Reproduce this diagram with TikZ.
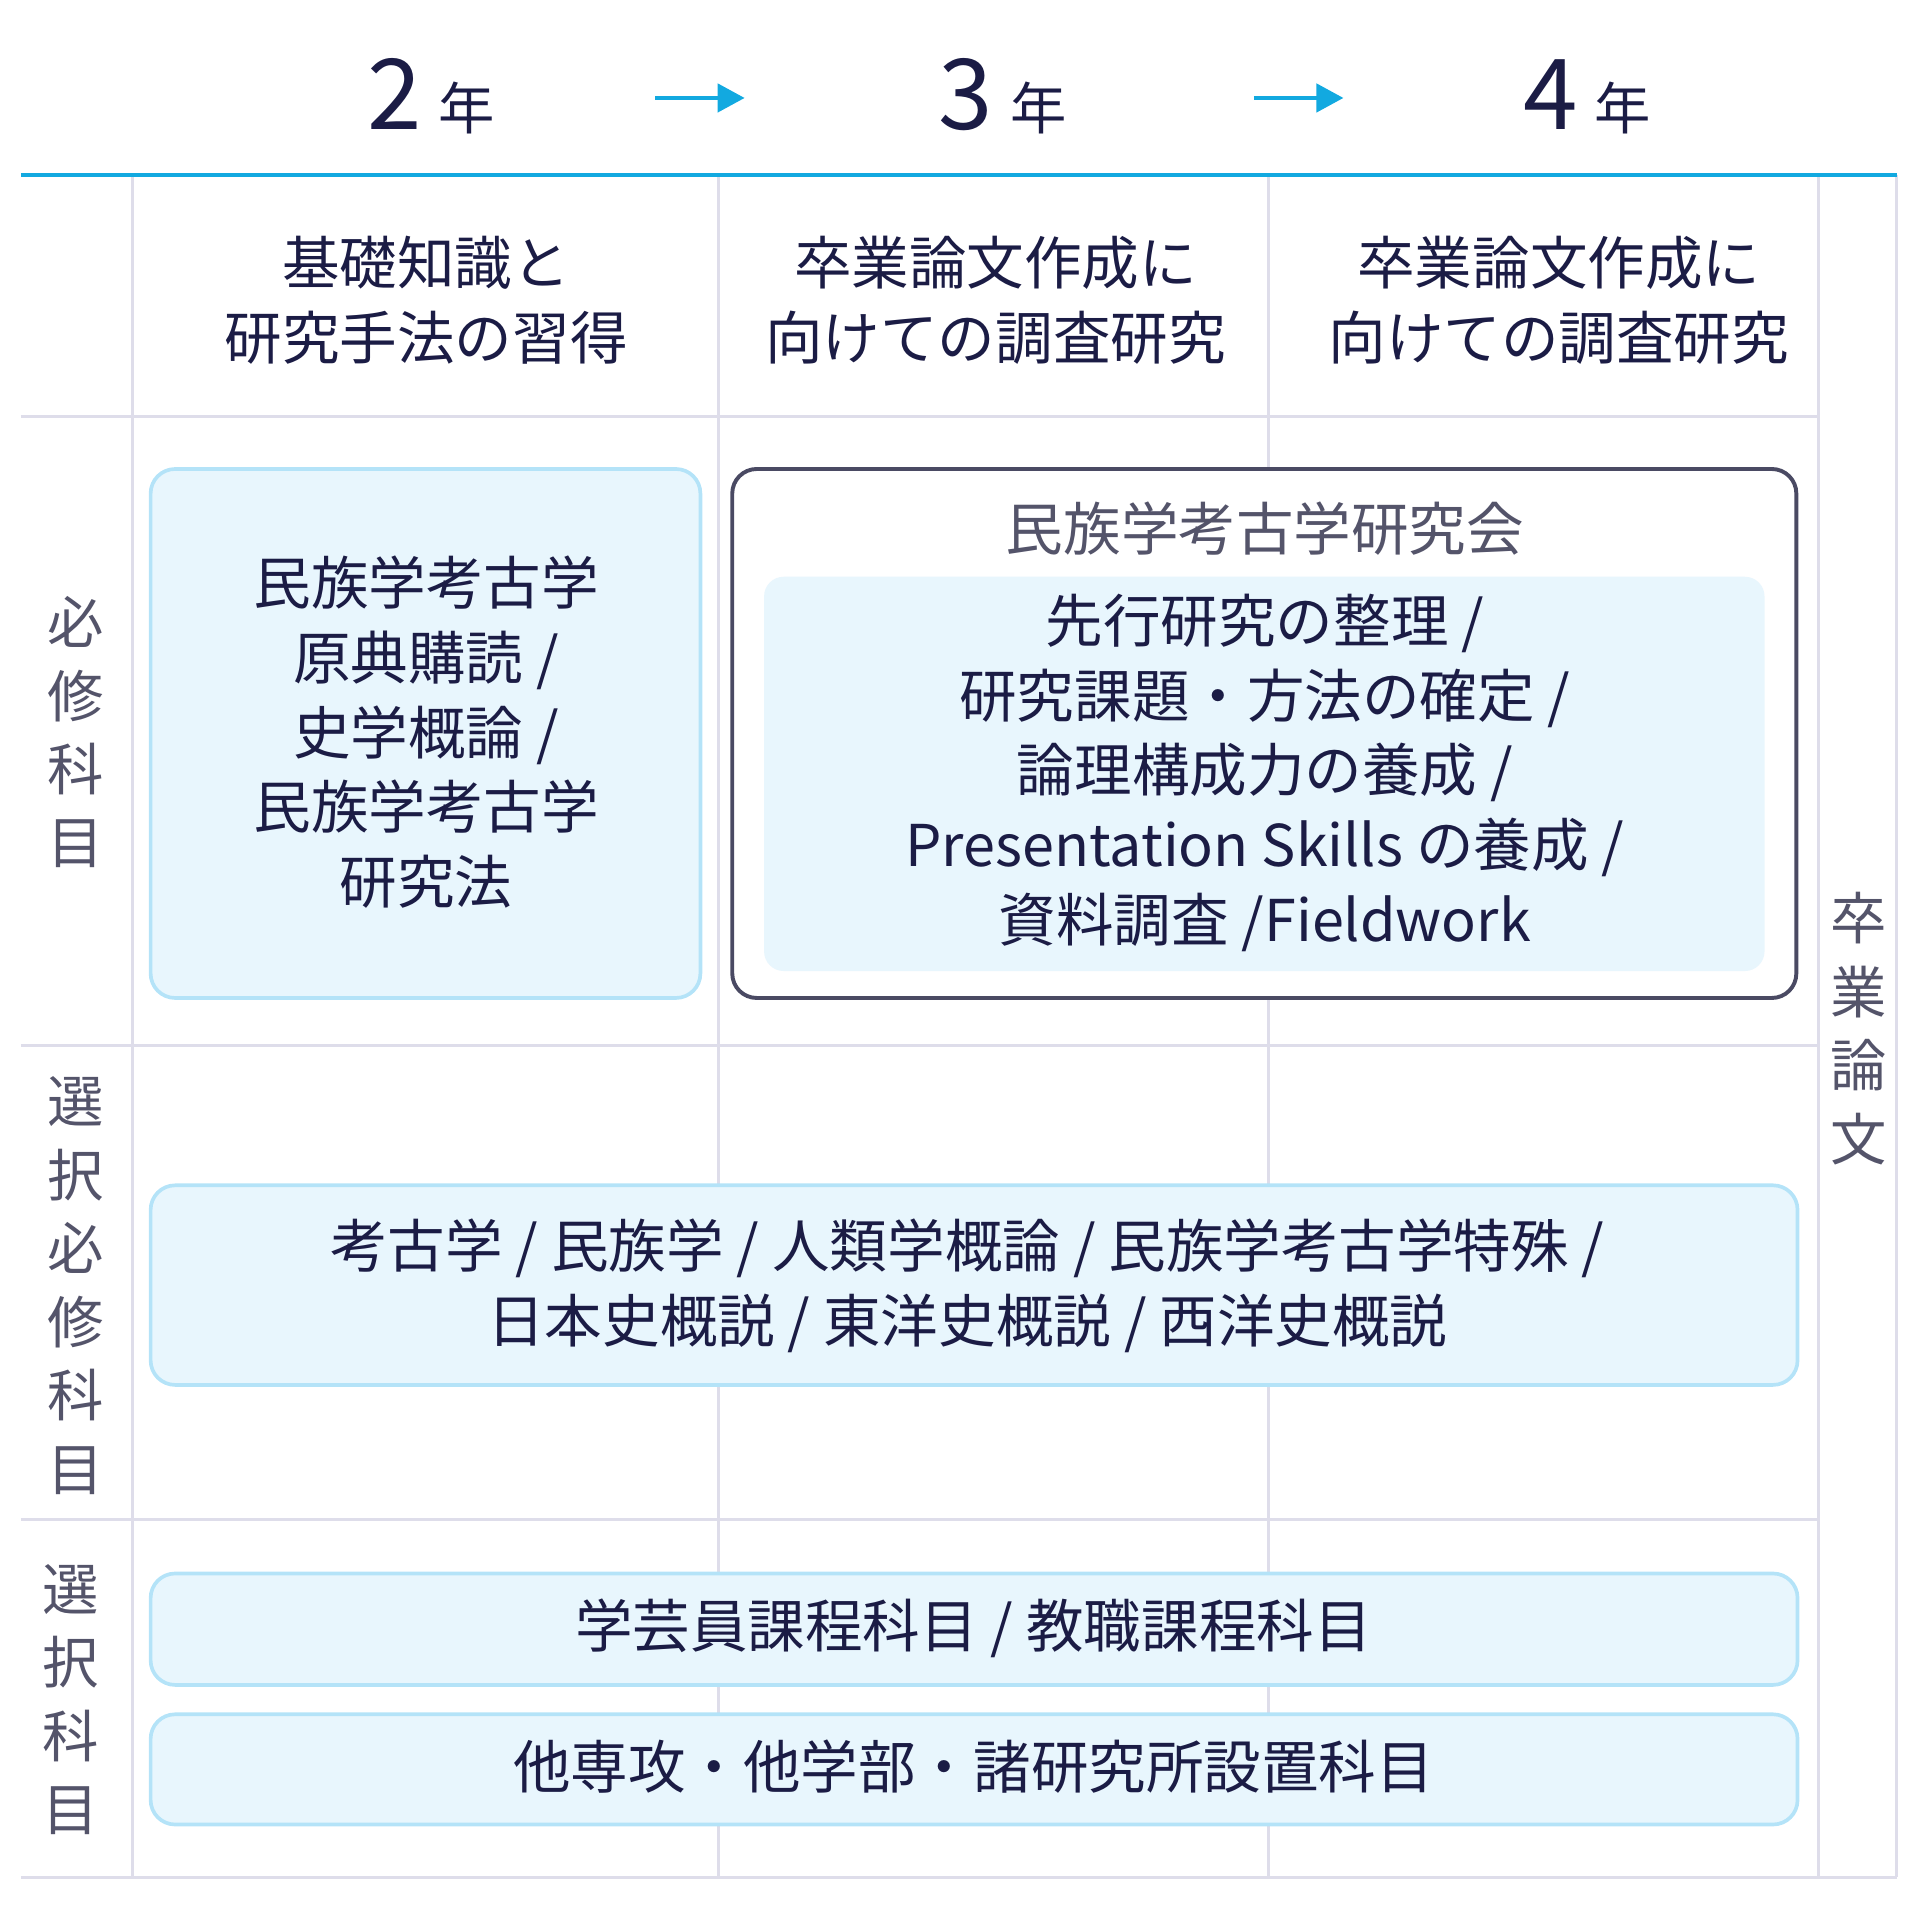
\documentclass[tikz,border=0pt]{standalone}
\usepackage{fontspec}
\setmainfont{Noto Sans CJK JP}
\begin{document}
\begin{tikzpicture}[x=0.5pt,y=-0.5pt,
  grid/.style={draw=gridc,line width=1.3pt},
  main/.style={text=navy,font=\fontsize{23.5}{30.5}\selectfont,align=center},
  vert/.style={text=grayt,font=\fontsize{23}{30}\selectfont,align=center},
  lbox/.style={draw=boxb,fill=boxf,line width=1.5pt,rounded corners=10pt},
  yr/.style={text=navy,anchor=base}]
\definecolor{gridc}{HTML}{DEDDEA}
\definecolor{navy}{HTML}{1B1C45}
\definecolor{grayt}{HTML}{54546A}
\definecolor{boxb}{HTML}{B4E3F8}
\definecolor{boxf}{HTML}{E8F6FD}
\definecolor{cyanl}{HTML}{12A9E0}
\definecolor{dark}{HTML}{4A4A63}
\useasboundingbox (0,0) rectangle (1568,1563);
% header
\node[yr,font=\fontsize{40}{40}\selectfont] (y2) at (322,106) {2};
\node[yr,font=\fontsize{23}{23}\selectfont,anchor=base west] (n2) at (y2.base east) {年};
\node[yr,font=\fontsize{40}{40}\selectfont] (y3) at (789,106) {3};
\node[yr,font=\fontsize{23}{23}\selectfont,anchor=base west] (n3) at (y3.base east) {年};
\node[yr,font=\fontsize{40}{40}\selectfont] (y4) at (1266,106) {4};
\node[yr,font=\fontsize{23}{23}\selectfont,anchor=base west] (n4) at (y4.base east) {年};
\coordinate (a1s) at (535,80); \coordinate (a1e) at (608,80);
\coordinate (a2s) at (1024,80); \coordinate (a2e) at (1097,80);
\draw[cyanl,line width=1.5pt] (a1s) -- (590,80);
\fill[cyanl] (a1e) -- (586,68) -- (586,92) -- cycle;
\draw[cyanl,line width=1.5pt] (a2s) -- (1079,80);
\fill[cyanl] (a2e) -- (1075,68) -- (1075,92) -- cycle;
% grid
\foreach \x in {108,587,1036,1485,1549} \draw[grid] (\x,143) -- (\x,1533);
\foreach \y in {340,854,1241} \draw[grid] (17,\y) -- (1485,\y);
\draw[grid] (17,1533) -- (1549,1533);
\draw[cyanl,line width=1.6pt] (17,143) -- (1549,143);
% column heads
\node[main] (h2) at (348,245) {基礎知識と\\研究手法の習得};
\node[main] (h3) at (813,245) {卒業論文作成に\\向けての調査研究};
\node[main] (h4) at (1273,245) {卒業論文作成に\\向けての調査研究};
% vertical labels
\node[vert] (v1) at (62,598) {必\\修\\科\\目};
\node[vert] (v2) at (62,1050) {選\\択\\必\\修\\科\\目};
\node[vert] (v3) at (58,1388) {選\\択\\科\\目};
\node[vert] (v4) at (1518,840) {卒\\業\\論\\文};
% boxes
\draw[lbox] (123,383) rectangle (572,815);
\node[main] (b1) at (348,598) {民族学考古学\\原典購読 /\\史学概論 /\\民族学考古学\\研究法};
\draw[draw=dark,line width=1.6pt,fill=white,rounded corners=10pt] (598,383) rectangle (1467,815);
\node[text=grayt,font=\fontsize{23.5}{30}\selectfont] (b2t) at (1033,432) {民族学考古学研究会};
\fill[boxf,rounded corners=8pt] (624,471) rectangle (1441,793);
\node[main] (b2) at (1033,631) {先行研究の整理 /\\研究課題・方法の確定 /\\論理構成力の養成 /\\Presentation Skills の養成 /\\資料調査 /Fieldwork};
\draw[lbox] (123,968) rectangle (1468,1131);
\node[main] (b3) at (790,1050) {考古学 / 民族学 / 人類学概論 / 民族学考古学特殊 /\\日本史概説 / 東洋史概説 / 西洋史概説};
\draw[lbox] (123,1285) rectangle (1468,1376);
\node[main] (b4) at (795,1330) {学芸員課程科目 / 教職課程科目};
\draw[lbox] (123,1400) rectangle (1468,1490);
\node[main] (b5) at (795,1443) {他専攻・他学部・諸研究所設置科目};
\end{tikzpicture}
\end{document}
